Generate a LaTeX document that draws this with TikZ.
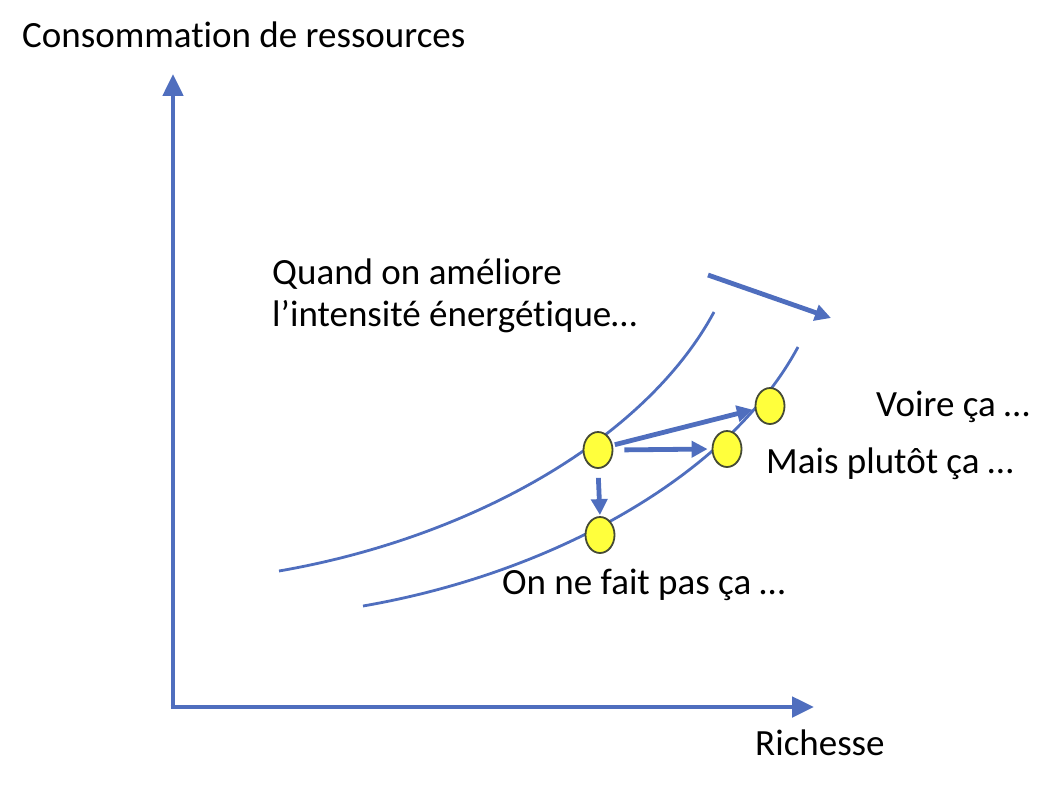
\documentclass[tikz,border=0pt]{standalone}
\usepackage{fontspec}
\setmainfont[Ligatures=NoCommon]{Carlito}
\usetikzlibrary{arrows.meta,shapes.geometric}
\definecolor{axisblue}{HTML}{4F6EBE}
\definecolor{dotyellow}{HTML}{FFFF3C}
\definecolor{dotedge}{HTML}{454A35}
\newcommand{\tiX}{t\kern0pt i}
\tikzset{
  curveline/.style={draw=axisblue,line width=2.8pt},
  axisline/.style={draw=axisblue,line width=4.8pt,-{Triangle[length=22pt,width=20pt]}},
  movearrow/.style={draw=axisblue,line width=4.8pt,-{Triangle[length=16pt,width=16pt]}},
  dot/.style={ellipse,draw=dotedge,line width=1.8pt,fill=dotyellow,minimum width=29pt,minimum height=36pt,inner sep=0pt},
  lbl/.style={anchor=base west,inner sep=0pt,font=\fontsize{37}{44}\selectfont,text=black}
}
\begin{document}
\begin{tikzpicture}[x=1pt,y=-1pt]
\useasboundingbox (0,0) rectangle (1056,789);
% axes
\coordinate (origin) at (173,707);
\coordinate (ytip) at (173,74);
\coordinate (xtip) at (814,707);
\draw[axisline] ([yshift=2.4pt]origin) -- (ytip);
\draw[axisline] ([xshift=-2.4pt]origin) -- (xtip);
% curves
\draw[curveline] (279,571) .. controls (470,538) and (645,440) .. (714,312);
\draw[curveline] (363,606) .. controls (554,573) and (729,475) .. (798,347);
% top arrow
\coordinate (a1) at (708,275);
\coordinate (a2) at (831,318);
\draw[movearrow] (a1) -- (a2);
% dots
\node[dot] (e1) at (598,450) {};
\node[dot] (e2) at (600,535) {};
\node[dot] (e3) at (727,449) {};
\node[dot] (e4) at (770,406) {};
% move arrows
\draw[movearrow,shorten <=2pt,shorten >=2pt] (e1.18) -- (e4.192);
\draw[movearrow,shorten <=11pt,shorten >=4pt] (e1.0) -- (e3.180);
\draw[movearrow,shorten <=9pt,shorten >=1pt] (e1.south) -- (e2.north);
% labels
\node[lbl] (ylab) at (22,48) {Consomma\tiX on de ressources};
\node[lbl] (xlab) at (755,755) {Richesse};
\node[lbl] (q1) at (272,284) {Quand on améliore};
\node[lbl] (q2) at (272,326) {l’intensité énergé\tiX que…};
\node[lbl] (voire) at (876,416) {Voire ça …};
\node[lbl] (mais) at (766,473) {Mais plutôt ça …};
\node[lbl] (onne) at (502,594) {On ne fait pas ça …};
\end{tikzpicture}
\end{document}
